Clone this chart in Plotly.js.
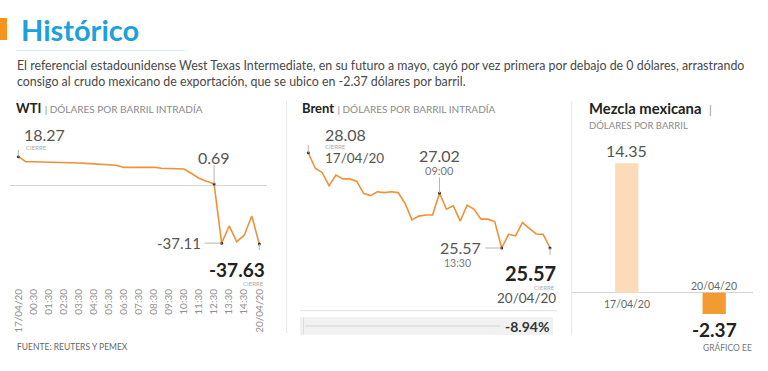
<!DOCTYPE html>
<html><head><meta charset="utf-8">
<script src="https://cdn.plot.ly/plotly-3.0.1.min.js"></script>
<style>html,body{margin:0;padding:0;background:#fff;}#chart{width:768px;height:371px;}</style>
</head><body><div id="chart"></div>
<script>
// ---- DATA ----
const wtiTickLabels = ['17/04/20','00:30','01:30','02:30','03:30','04:30','05:30','06:30','07:30','08:30','09:30','10:30','11:30','12:30','13:30','14:30','20/04/20'];
const wtiTickVals = [0,1,2,3,4,5,6,7,8,9,10,11,12,13,14,15,16];
const wtiX = [0,0.5,1,1.5,2,2.5,3,3.5,4,4.5,5,5.5,6,6.5,7,7.5,8,8.5,9,9.5,10,10.5,11,11.5,12,12.5,13,13.5,14,14.5,15,15.5,16];
const wtiY = [18.27,15.0,15.0,14.9,14.9,14.9,14.8,14.4,14.2,14.0,13.7,13.4,13.1,12.8,11.4,11.5,11.6,11.6,11.5,10.9,10.7,10.6,10.4,7.5,4.5,2.5,0.69,-37.11,-26.1,-36.2,-32.0,-19.7,-37.63];
const brentY = [28.08,27.67,27.56,27.21,27.49,27.39,27.39,27.33,27.01,26.95,27.05,27.03,27.05,27.03,26.75,26.31,26.41,26.44,26.44,27.02,26.59,26.68,26.28,26.70,26.59,26.33,26.33,26.26,25.57,25.93,25.89,26.24,26.09,25.94,25.93,25.57];
const mezclaCats = [0,1];
const mezclaDates = ['17/04/20','20/04/20'];
const mezclaVals = [14.35,-2.37];
const brentChange = '-8.94%';

// ---- helpers ----
const W=768,H=371;
const px=x=>x/W, py=y=>1-y/H;
const FONT="Lato, 'Open Sans', sans-serif";
const ORANGE='#f0913a', LEAD='#b5b5b5';

const traces = [
  {type:'scatter',mode:'lines',x:wtiX,y:wtiY,xaxis:'x',yaxis:'y',line:{color:ORANGE,width:1.6},hoverinfo:'skip'},
  {type:'scatter',mode:'markers',x:[wtiX[0],wtiX[26],wtiX[27],wtiX[32]],y:[wtiY[0],wtiY[26],wtiY[27],wtiY[32]],xaxis:'x',yaxis:'y',marker:{color:'#333',size:3},hoverinfo:'skip'},
  {type:'scatter',mode:'lines',y:brentY,xaxis:'x2',yaxis:'y2',line:{color:ORANGE,width:1.6},hoverinfo:'skip'},
  {type:'scatter',mode:'markers',x:[0,19,28,35],y:[brentY[0],brentY[19],brentY[28],brentY[35]],xaxis:'x2',yaxis:'y2',marker:{color:'#333',size:3},hoverinfo:'skip'},
  {type:'bar',x:mezclaCats,y:mezclaVals,xaxis:'x3',yaxis:'y3',width:0.266,marker:{color:['#fcdcb8','#f39a33']},hoverinfo:'skip'}
];

function ann(o){return Object.assign({showarrow:false,font:{family:FONT,size:16,color:'#555'}},o);}
function lead(xref,yref,xa,ya,x0,x1,y0,y1){
  return {type:'line',xref:xref,yref:yref,xsizemode:'pixel',ysizemode:'pixel',xanchor:xa,yanchor:ya,x0:x0,x1:x1,y0:y0,y1:y1,line:{color:LEAD,width:1}};
}
const small = {family:FONT,size:6,color:'#aaa'};

const annotations = [
  // Title block
  ann({xref:'paper',yref:'paper',x:px(19),y:py(29),xanchor:'left',yanchor:'middle',text:'<b>Histórico</b>',font:{family:FONT,size:29,color:'#1ba1df'}}),
  ann({xref:'paper',yref:'paper',x:px(15),y:py(65),xanchor:'left',yanchor:'middle',text:'El referencial estadounidense West Texas Intermediate, en su futuro a mayo, cayó por vez primera por debajo de 0 dólares, arrastrando',font:{family:FONT,size:12.4,color:'#484848'}}),
  ann({xref:'paper',yref:'paper',x:px(15),y:py(81),xanchor:'left',yanchor:'middle',text:'consigo al crudo mexicano de exportación, que se ubico en -2.37 dólares por barril.',font:{family:FONT,size:12.4,color:'#484848'}}),
  // headers
  ann({xref:'paper',yref:'paper',x:px(14),y:py(108),xanchor:'left',yanchor:'middle',text:"<b>WTI</b> <span style='font-size:10px;color:#8a8a8a'>| DÓLARES POR BARRIL INTRADÍA</span>",font:{family:FONT,size:13,color:'#222'}}),
  ann({xref:'paper',yref:'paper',x:px(300),y:py(108),xanchor:'left',yanchor:'middle',text:"<b>Brent</b> <span style='font-size:10px;color:#8a8a8a'>| DÓLARES POR BARRIL INTRADÍA</span>",font:{family:FONT,size:13,color:'#222'}}),
  ann({xref:'paper',yref:'paper',x:px(587),y:py(108),xanchor:'left',yanchor:'middle',text:"<b>Mezcla mexicana</b>  <span style='font-size:11px;color:#8a8a8a'>|</span>",font:{family:FONT,size:14.8,color:'#222'}}),
  ann({xref:'paper',yref:'paper',x:px(587),y:py(126),xanchor:'left',yanchor:'middle',text:'DÓLARES POR BARRIL',font:{family:FONT,size:9.5,color:'#8a8a8a'}}),
  // footer
  ann({xref:'paper',yref:'paper',x:px(15),y:py(347),xanchor:'left',yanchor:'middle',text:'FUENTE: REUTERS Y PEMEX',font:{family:FONT,size:8.5,color:'#666'}}),
  ann({xref:'paper',yref:'paper',x:px(754),y:py(347),xanchor:'right',yanchor:'middle',text:'GRÁFICO EE',font:{family:FONT,size:8.5,color:'#777'}}),
  ann({xref:'paper',yref:'paper',x:px(551),y:py(326),xanchor:'right',yanchor:'middle',text:'<b>'+brentChange+'</b>',font:{family:FONT,size:14,color:'#333'}}),

  // WTI labels
  ann({xref:'x',yref:'y',x:wtiX[0],y:wtiY[0],xshift:4,yshift:21.7,xanchor:'left',yanchor:'middle',text:wtiY[0].toFixed(2)}),
  ann({xref:'x',yref:'y',x:wtiX[0],y:wtiY[0],xshift:6,yshift:9.5,xanchor:'left',yanchor:'middle',text:'CIERRE',font:small}),
  ann({xref:'x',yref:'y',x:wtiX[26],y:wtiY[26],yshift:27,xanchor:'center',yanchor:'middle',text:wtiY[26].toFixed(2)}),
  ann({xref:'x',yref:'y',x:wtiX[27],y:wtiY[27],xshift:-19,yshift:0,xanchor:'right',yanchor:'middle',text:wtiY[27].toFixed(2),font:{family:FONT,size:15,color:'#555'}}),
  ann({xref:'x',yref:'y',x:wtiX[32],y:wtiY[32],xshift:8,yshift:-26,xanchor:'right',yanchor:'middle',text:'<b>'+wtiY[32].toFixed(2)+'</b>',font:{family:FONT,size:19,color:'#222'}}),
  ann({xref:'x',yref:'y',x:wtiX[32],y:wtiY[32],xshift:7,yshift:-39.5,xanchor:'right',yanchor:'middle',text:'CIERRE',font:small}),

  // Brent labels
  ann({xref:'x2',yref:'y2',x:0,y:brentY[0],xshift:14.5,yshift:18,xanchor:'left',yanchor:'middle',text:brentY[0].toFixed(2)}),
  ann({xref:'x2',yref:'y2',x:0,y:brentY[0],xshift:15,yshift:6,xanchor:'left',yanchor:'middle',text:'CIERRE',font:small}),
  ann({xref:'x2',yref:'y2',x:0,y:brentY[0],xshift:14.5,yshift:-5.5,xanchor:'left',yanchor:'middle',text:mezclaDates[0],font:{family:FONT,size:13.5,color:'#555'}}),
  ann({xref:'x2',yref:'y2',x:19,y:brentY[19],yshift:37.5,xanchor:'center',yanchor:'middle',text:brentY[19].toFixed(2)}),
  ann({xref:'x2',yref:'y2',x:19,y:brentY[19],yshift:22.5,xanchor:'center',yanchor:'middle',text:'09:00',font:{family:FONT,size:11,color:'#777'}}),
  ann({xref:'x2',yref:'y2',x:28,y:brentY[28],xshift:-19,yshift:1,xanchor:'right',yanchor:'middle',text:brentY[28].toFixed(2)}),
  ann({xref:'x2',yref:'y2',x:28,y:brentY[28],xshift:-44,yshift:-14.5,xanchor:'center',yanchor:'middle',text:'13:30',font:{family:FONT,size:10.5,color:'#777'}}),
  ann({xref:'x2',yref:'y2',x:35,y:brentY[35],xshift:8,yshift:-24.5,xanchor:'right',yanchor:'middle',text:'<b>'+brentY[35].toFixed(2)+'</b>',font:{family:FONT,size:20,color:'#222'}}),
  ann({xref:'x2',yref:'y2',x:35,y:brentY[35],xshift:7,yshift:-39.5,xanchor:'right',yanchor:'middle',text:'CIERRE',font:small}),
  ann({xref:'x2',yref:'y2',x:35,y:brentY[35],xshift:8,yshift:-50,xanchor:'right',yanchor:'middle',text:mezclaDates[1],font:{family:FONT,size:13.5,color:'#555'}}),

  // Mezcla labels
  ann({xref:'x3',yref:'y3',x:mezclaCats[0],y:mezclaVals[0],yshift:12.5,xanchor:'center',yanchor:'middle',text:mezclaVals[0].toFixed(2)}),
  ann({xref:'x3',yref:'y3',x:mezclaCats[0],y:0,yshift:-11.5,xanchor:'center',yanchor:'middle',text:mezclaDates[0],font:{family:FONT,size:10.5,color:'#666'}}),
  ann({xref:'x3',yref:'y3',x:mezclaCats[1],y:0,yshift:6.5,xanchor:'center',yanchor:'middle',text:mezclaDates[1],font:{family:FONT,size:10.5,color:'#666'}}),
  ann({xref:'x3',yref:'y3',x:mezclaCats[1],y:mezclaVals[1],yshift:-15.5,xanchor:'center',yanchor:'middle',text:'<b>'+mezclaVals[1].toFixed(2)+'</b>',font:{family:FONT,size:19,color:'#222'}})
];

const shapes = [
  {type:'rect',xref:'paper',yref:'paper',x0:px(0),x1:px(7),y0:py(40),y1:py(18),fillcolor:'#f7941d',line:{width:0}},
  {type:'line',xref:'paper',yref:'paper',x0:px(16),x1:px(185),y0:py(50.7),y1:py(50.7),line:{color:'#d6ecf7',width:1}},
  {type:'line',xref:'paper',yref:'paper',x0:px(286.7),x1:px(286.7),y0:py(101),y1:py(333),line:{color:'#e8e8e8',width:1}},
  {type:'line',xref:'paper',yref:'paper',x0:px(571.7),x1:px(571.7),y0:py(101),y1:py(335),line:{color:'#e8e8e8',width:1}},
  {type:'line',xref:'paper',yref:'paper',x0:px(300),x1:px(557),y0:py(310.7),y1:py(310.7),line:{color:'#e2e2e2',width:1}},
  {type:'rect',xref:'paper',yref:'paper',x0:px(300),x1:px(553),y0:py(335),y1:py(317),fillcolor:'#f1f1f1',line:{width:0},layer:'below'},
  {type:'line',xref:'paper',yref:'paper',x0:px(305),x1:px(500),y0:py(326),y1:py(326),line:{color:'#d3d3d3',width:1}},
  {type:'line',xref:'paper',yref:'paper',x0:px(303.5),x1:px(303.5),y0:py(318),y1:py(334),line:{color:'#dddddd',width:1}},
  // WTI leaders
  lead('x','y',wtiX[0],wtiY[0],0,0,0,21.7),
  lead('x','y',wtiX[0],wtiY[0],0,4,21.7,21.7),
  lead('x','y',wtiX[26],wtiY[26],0,0,0,19),
  lead('x','y',wtiX[27],wtiY[27],-17,0,0,0),
  lead('x','y',wtiX[32],wtiY[32],0,0,0,-8),
  // Brent leaders
  lead('x2','y2',0,brentY[0],0,0,0,18),
  lead('x2','y2',0,brentY[0],0,12.5,18,18),
  lead('x2','y2',19,brentY[19],0,0,0,15.5),
  lead('x2','y2',28,brentY[28],-16.5,0,0,0),
  lead('x2','y2',35,brentY[35],0,0,0,-14.5)
];

const noax = {showgrid:false,zeroline:false,showline:false,showticklabels:false,ticks:'',fixedrange:true};
const layout = {
  width:W,height:H,margin:{l:0,r:0,t:0,b:0},paper_bgcolor:'#fff',plot_bgcolor:'rgba(0,0,0,0)',
  showlegend:false,font:{family:FONT},
  xaxis:Object.assign({},noax,{domain:[px(10),px(267)],range:[-0.551,16.511],anchor:'free',position:py(286),
    showticklabels:true,tickmode:'array',tickvals:wtiTickVals,ticktext:wtiTickLabels,tickangle:-90,
    tickfont:{family:FONT,size:10,color:'#8f8f8f'}}),
  yaxis:Object.assign({},noax,{domain:[py(250),py(150)],range:[-41.5,22.54],anchor:'x',zeroline:true,zerolinecolor:'#d4d4d4',zerolinewidth:1}),
  xaxis2:Object.assign({},noax,{domain:[px(305),px(555)],range:[-0.478,35.72],anchor:'y2'}),
  yaxis2:Object.assign({},noax,{domain:[py(255),py(145)],range:[25.386,28.283],anchor:'x2'}),
  xaxis3:Object.assign({},noax,{domain:[px(571.7),px(752.7)],range:[-0.629,1.44],anchor:'y3'}),
  yaxis3:Object.assign({},noax,{domain:[py(320),py(150)],range:[-3.03,15.82],anchor:'x3',zeroline:true,zerolinecolor:'#d4d4d4',zerolinewidth:1}),
  annotations:annotations,shapes:shapes
};
Plotly.newPlot('chart',traces,layout,{staticPlot:true,displayModeBar:false});
</script></body></html>
